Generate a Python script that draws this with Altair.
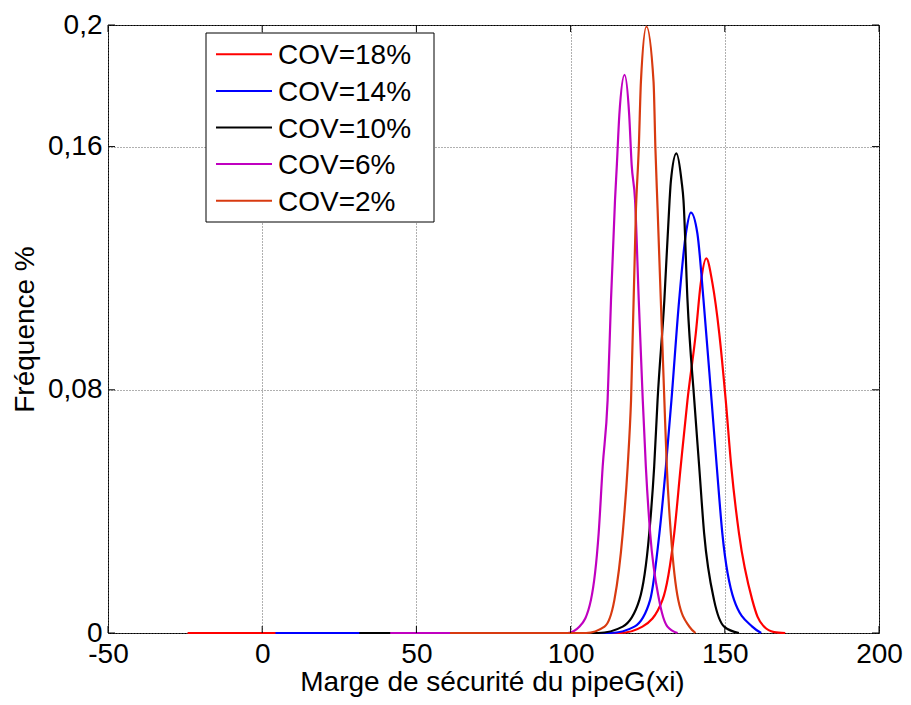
import altair as alt
import pandas as pd

names = ["COV=18%", "COV=14%", "COV=10%", "COV=6%", "COV=2%"]
colors = ["#ff0000", "#0000ff", "#000000", "#c000c0", "#d83a10"]

# COV=18%
x18 = [-24.2, 116, 123.3, 129.8, 133.6, 135.7, 137.9, 140.6, 142.2, 144.0, 146.0, 148.2, 150.3, 152.1, 154.6, 158.9, 160.6, 162.7, 166, 169.6]
y18 = [0, 0, 0.0021, 0.0109, 0.0328, 0.0547, 0.0766, 0.0986, 0.115, 0.1232, 0.115, 0.0986, 0.0766, 0.0547, 0.0328, 0.0109, 0.0054, 0.0021, 0.0003, 0]
# COV=14%
x14 = [4.3, 113, 120.7, 125.8, 128.8, 130.9, 132.7, 135.2, 137.4, 139.0, 141.1, 143.1, 145.7, 147.4, 149.2, 153.0, 158.9, 161.8]
y14 = [0, 0, 0.0021, 0.0109, 0.0328, 0.0547, 0.0766, 0.1095, 0.1315, 0.1383, 0.1315, 0.1095, 0.0766, 0.0547, 0.0328, 0.0109, 0.0021, 0]
# COV=10%
x10 = [31.5, 109, 116.9, 122.3, 125.5, 127.1, 128.2, 130.4, 132.1, 132.5, 134.3, 136.0, 136.6, 137.9, 140.1, 141.7, 143.3, 146.5, 149.8, 154.6]
y10 = [0, 0, 0.0021, 0.0109, 0.0328, 0.0547, 0.0766, 0.1095, 0.1424, 0.1485, 0.1578, 0.1485, 0.1424, 0.1095, 0.0766, 0.0547, 0.0328, 0.0109, 0.0021, 0]
# COV=6%
x6 = [41.5, 99, 102.9, 106.6, 109.1, 110.4, 112.0, 113.1, 114.4, 115.0, 115.8, 117.5, 119.0, 119.8, 120.9, 122.1, 123.4, 124.4, 125.8, 128.7, 131.4, 134.7]
y6 = [0, 0, 0.0021, 0.0109, 0.0328, 0.0547, 0.0766, 0.1095, 0.1424, 0.154, 0.1704, 0.1836, 0.1704, 0.154, 0.1424, 0.1095, 0.0766, 0.0547, 0.0328, 0.0109, 0.0021, 0]
# COV=2%
x2 = [60.9, 105, 111.0, 114.2, 116.9, 118.5, 119.6, 121.2, 122.1, 122.8, 124.6, 126.9, 127.5, 128.2, 130.4, 131.2, 132.5, 134.9, 138.5, 140.5]
y2 = [0, 0, 0.0021, 0.0109, 0.0328, 0.0547, 0.0766, 0.1397, 0.1594, 0.1813, 0.1995, 0.1813, 0.1594, 0.1397, 0.0766, 0.0547, 0.0328, 0.0109, 0.0021, 0]

x_ticks = [-50, 0, 50, 100, 150, 200]
y_ticks = [0, 0.08, 0.16, 0.2]

W, H = 771, 608
FONT = "Liberation Sans"

xs = alt.Scale(domain=[-50, 200], nice=False, zero=False)
ys = alt.Scale(domain=[0, 0.2], nice=False, zero=False)

axis_x = alt.Axis(values=x_ticks, grid=True, ticks=False, tickSize=0, domain=False,
                  labelExpr="'' + datum.value", labelBaseline="alphabetic", labelPadding=29,
                  labelFlush=False, title="Marge de sécurité du pipeG(xi)",
                  titleBaseline="alphabetic", titleY=57, titleX=384)
axis_y = alt.Axis(values=y_ticks, grid=True, ticks=False, tickSize=0, domain=False,
                  labelExpr="replace(format(datum.value, '~g'), '.', ',')",
                  labelPadding=6, labelFlush=False, title="Fréquence %",
                  titleAngle=270, titleBaseline="alphabetic", titleAlign="center",
                  titleX=-75, titleY=304)

xenc = alt.X("x:Q", scale=xs, axis=axis_x)
yenc = alt.Y("y:Q", scale=ys, axis=axis_y)

layers = []
series = [(x18, y18), (x14, y14), (x10, y10), (x6, y6), (x2, y2)]
for name, col, (xv, yv) in zip(names, colors, series):
    df = pd.DataFrame({"x": xv, "y": yv})
    layers.append(
        alt.Chart(df).mark_line(color=col, strokeWidth=2.2, interpolate="monotone")
        .encode(x=xenc, y=yenc)
    )

# inward ticks (MATLAB style)
dfx = pd.DataFrame({"x": x_ticks})
dfy = pd.DataFrame({"y": y_ticks})
tick_style = dict(color="black", strokeWidth=1)
layers.append(alt.Chart(dfx).mark_rule(**tick_style).encode(x=xenc, y=alt.value(H), y2=alt.value(H - 7)))
layers.append(alt.Chart(dfx).mark_rule(**tick_style).encode(x=xenc, y=alt.value(0), y2=alt.value(7)))
layers.append(alt.Chart(dfy).mark_rule(**tick_style).encode(y=yenc, x=alt.value(0), x2=alt.value(7)))
layers.append(alt.Chart(dfy).mark_rule(**tick_style).encode(y=yenc, x=alt.value(W), x2=alt.value(W - 7)))

# legend box
dummy = pd.DataFrame({"a": [0]})
layers.append(
    alt.Chart(dummy).mark_rect(fill="white", stroke="black", strokeWidth=1)
    .encode(x=alt.value(98), x2=alt.value(326), y=alt.value(8), y2=alt.value(197))
)
for i, (name, col) in enumerate(zip(names, colors)):
    ly = 29.3 + i * 36.6
    layers.append(
        alt.Chart(dummy).mark_rule(color=col, strokeWidth=2)
        .encode(x=alt.value(108), x2=alt.value(164), y=alt.value(ly))
    )
    layers.append(
        alt.Chart(dummy).mark_text(align="left", baseline="alphabetic", font=FONT,
                                   fontSize=28, color="black", text=name)
        .encode(x=alt.value(170), y=alt.value(ly + 10))
    )

chart = (
    alt.layer(*layers)
    .properties(width=W, height=H, autosize=alt.AutoSizeParams(type="none"),
                padding={"left": 100, "top": 17, "right": 24, "bottom": 64},
                background="white")
    .configure_view(stroke="black", strokeWidth=1)
    .configure_axis(labelFont=FONT, titleFont=FONT, labelFontSize=28, titleFontSize=28,
                    labelColor="black", titleColor="black", titleFontWeight="normal",
                    gridColor="#606060", gridDash=[1, 2], gridWidth=1, gridOpacity=1)
)

chart.save("out.html", embed_options={"renderer": "svg", "actions": False})
